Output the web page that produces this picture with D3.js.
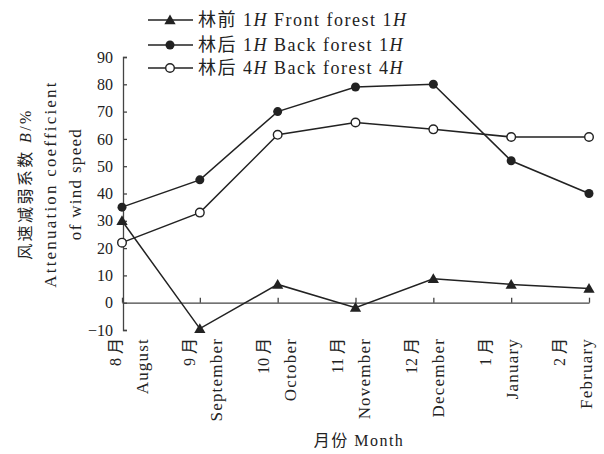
<!DOCTYPE html>
<html>
<head>
<meta charset="utf-8">
<script src="https://cdn.jsdelivr.net/npm/d3@7"></script>
<style>
  body { margin: 0; background: #fff; }
  svg { display: block; }
  text { font-family: "Liberation Serif", "Noto Sans CJK SC", serif; fill: #222; }
</style>
</head>
<body>
<svg id="chart" width="604" height="454"></svg>
<script>
// Months (Chinese / English) along the x axis
const monthsCn = ["8 月", "9 月", "10 月", "11 月", "12 月", "1 月", "2 月"];
const monthsEn = ["August", "September", "October", "November", "December", "January", "February"];

// Wind-speed attenuation coefficient B (%) per month
const frontForest1H = [30, -9.5, 6.7, -1.8, 8.8, 6.7, 5.2];
const backForest1H  = [35, 45, 70, 79, 80, 52, 40];
const backForest4H  = [22, 33, 61.5, 66, 63.5, 60.7, 60.7];

// Legend labels: prefix, height multiple, English name
const seriesCn   = ["林前", "林后", "林后"];
const seriesNum  = ["1", "1", "4"];
const seriesEn   = ["Front forest", "Back forest", "Back forest"];
const seriesMark = ["triangle", "dot", "ring"];

// y tick values
const yTicks = [-10, 0, 10, 20, 30, 40, 50, 60, 70, 80, 90];

const svg = d3.select("#chart");
const ink = "#222";

const x = d3.scalePoint().domain(monthsEn).range([122, 589]);
// category labels sit on a slightly narrower band than the ticks
const xLab = d3.scalePoint().domain(monthsEn).range([129, 573]);
const y = d3.scaleLinear().domain([-10, 90]).range([330, 57]);

// y axis: ticks pointing into the plot
const yAxis = svg.append("g")
  .attr("transform", "translate(123,0)")
  .call(d3.axisLeft(y).tickValues(yTicks).tickSize(-4).tickPadding(10).tickFormat(d3.format("d")));
yAxis.select(".domain").attr("stroke", "#444").attr("stroke-width", 1.3);
yAxis.selectAll(".tick line").attr("stroke", "#444").attr("stroke-width", 1.3);
yAxis.selectAll(".tick text")
  .attr("font-size", 16).attr("fill", ink)
  .style("font-family", "'Liberation Serif', serif");

// x axis drawn along the zero line, ticks pointing up
const xAxis = svg.append("g")
  .attr("transform", `translate(0,${y(0)})`)
  .call(d3.axisBottom(x).tickSize(-5).tickSizeOuter(0).tickFormat(""));
xAxis.select(".domain").attr("stroke", "#444").attr("stroke-width", 1.3);
xAxis.selectAll(".tick line").attr("stroke", "#444").attr("stroke-width", 1.3);

// rotated month labels (two lines each)
const labelTop = 338;
const lab = svg.append("g");
monthsEn.forEach((m, i) => {
  const cx = xLab(m);
  lab.append("text")
    .attr("transform", `translate(${cx - 8},${labelTop}) rotate(-90)`)
    .attr("text-anchor", "end")
    .attr("font-size", 16)
    .text(monthsCn[i]);
  lab.append("text")
    .attr("transform", `translate(${cx + 19},${labelTop}) rotate(-90)`)
    .attr("text-anchor", "end")
    .attr("font-size", 17)
    .attr("letter-spacing", 1.2)
    .text(m);
});

// x axis title
svg.append("text")
  .attr("x", 359).attr("y", 446)
  .attr("text-anchor", "middle")
  .attr("font-size", 16)
  .attr("letter-spacing", 1.5)
  .text("月份 Month");

// y axis title (three lines)
const yt = svg.append("g").attr("transform", "translate(0,184)");
const yl1 = yt.append("text")
  .attr("transform", "translate(31,0) rotate(-90)")
  .attr("text-anchor", "middle").attr("font-size", 16)
  .attr("letter-spacing", 2.4);
yl1.append("tspan").text("风速减弱系数 ");
yl1.append("tspan").attr("font-style", "italic").text("B");
yl1.append("tspan").text("/%");
yt.append("text")
  .attr("transform", "translate(56,0) rotate(-90)")
  .attr("text-anchor", "middle").attr("font-size", 17)
  .attr("letter-spacing", 2.2)
  .text("Attenuation coefficient");
yt.append("text")
  .attr("transform", "translate(81,0) rotate(-90)")
  .attr("text-anchor", "middle").attr("font-size", 17)
  .attr("letter-spacing", 1.3)
  .text("of wind speed");

// series lines and markers
const seriesVals = [frontForest1H, backForest1H, backForest4H];
const line = d3.line().x((d, i) => x(monthsEn[i])).y(d => y(d));

function drawMarker(g, kind, cx, cy) {
  if (kind === "triangle") {
    g.append("path")
      .attr("d", d3.symbol(d3.symbolTriangle, 55)())
      .attr("transform", `translate(${cx},${cy + 1})`)
      .attr("fill", ink);
  } else if (kind === "dot") {
    g.append("circle").attr("cx", cx).attr("cy", cy).attr("r", 4.5).attr("fill", ink);
  } else {
    g.append("circle").attr("cx", cx).attr("cy", cy).attr("r", 4.3)
      .attr("fill", "#fff").attr("stroke", ink).attr("stroke-width", 1.4);
  }
}

seriesVals.forEach((vals, s) => {
  const g = svg.append("g");
  g.append("path").datum(vals)
    .attr("d", line)
    .attr("fill", "none").attr("stroke", ink).attr("stroke-width", 1.5);
  vals.forEach((v, i) => drawMarker(g, seriesMark[s], x(monthsEn[i]), y(v)));
});

// legend
const legendY = [20, 45, 68];
seriesCn.forEach((cn, s) => {
  const g = svg.append("g").attr("transform", `translate(0,${legendY[s]})`);
  g.append("line").attr("x1", 148).attr("x2", 193).attr("y1", 0).attr("y2", 0)
    .attr("stroke", ink).attr("stroke-width", 1.5);
  drawMarker(g, seriesMark[s], 170, 0);
  const t = g.append("text").attr("x", 198).attr("y", 6)
    .attr("font-size", 18).attr("letter-spacing", 1.5);
  t.append("tspan").text(`${cn} ${seriesNum[s]}`);
  t.append("tspan").attr("font-style", "italic").text("H");
  t.append("tspan").text(` ${seriesEn[s]} ${seriesNum[s]}`);
  t.append("tspan").attr("font-style", "italic").text("H");
});
</script>
</body>
</html>
